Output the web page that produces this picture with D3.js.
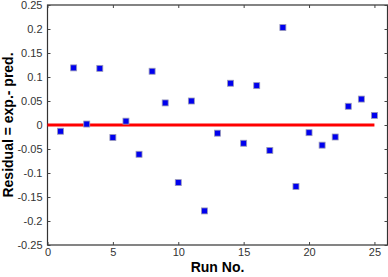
<!DOCTYPE html>
<html><head><meta charset="utf-8">
<script src="https://cdn.jsdelivr.net/npm/d3@7"></script>
<style>body{margin:0;background:#fff}svg{display:block}</style>
</head><body>
<svg id="c" width="388" height="277"></svg>
<script>
const runs = [1,2,3,4,5,6,7,8,9,10,11,12,13,14,15,16,17,18,19,20,21,22,23,24,25];
const residuals = [-0.013,0.119,0.002,0.118,-0.026,0.008,-0.061,0.112,0.046,-0.120,0.050,-0.179,-0.017,0.087,-0.038,0.082,-0.053,0.203,-0.128,-0.016,-0.042,-0.025,0.039,0.054,0.020];
const xTicks = [0,5,10,15,20,25];
const yTicks = [-0.25,-0.2,-0.15,-0.1,-0.05,0,0.05,0.1,0.15,0.2,0.25];
const zeroLine = [0,25];

const svg = d3.select("#c");
const L=47.5, R=387.5, T=5, B=245;
const x = d3.scaleLinear().domain([0,26]).range([L,R]);
const y = d3.scaleLinear().domain([-0.25,0.25]).range([B,T]);
const fmt = d => d===0 ? "0" : String(d);

// frame
svg.append("rect").attr("x",L).attr("y",T).attr("width",R-L).attr("height",B-T)
  .attr("fill","none").attr("stroke","#333").attr("stroke-width",1.2);

// axes
const xa = svg.append("g").attr("transform",`translate(0,${B})`)
  .call(d3.axisBottom(x).tickValues(xTicks).tickSize(-3).tickPadding(3).tickFormat(fmt));
const xt = svg.append("g").attr("transform",`translate(0,${T})`)
  .call(d3.axisTop(x).tickValues(xTicks).tickSize(-3).tickFormat(""));
const ya = svg.append("g").attr("transform",`translate(${L},0)`)
  .call(d3.axisLeft(y).tickValues(yTicks).tickSize(-3).tickPadding(5).tickFormat(fmt));
const yr = svg.append("g").attr("transform",`translate(${R},0)`)
  .call(d3.axisRight(y).tickValues(yTicks).tickSize(-3).tickFormat(""));
[xa,xt,ya,yr].forEach(g=>{
  g.select(".domain").remove();
  g.selectAll(".tick line").attr("stroke","#444");
  g.selectAll("text").attr("font-family","Liberation Sans, Arial, sans-serif").attr("font-size",11).attr("fill","#333");
});

// zero line
svg.append("line").attr("x1",x(zeroLine[0])).attr("x2",x(zeroLine[1]))
  .attr("y1",y(0)).attr("y2",y(0)).attr("stroke","#ff0000").attr("stroke-width",3);

// points
svg.selectAll("rect.pt").data(runs).join("rect").attr("class","pt")
  .attr("x",(d,i)=>x(d)-3).attr("y",(d,i)=>y(residuals[i])-3)
  .attr("width",6).attr("height",6)
  .attr("fill","#0000ee").attr("stroke","#9a9ab8").attr("stroke-width",0.8);

// titles
svg.append("text").attr("x",x(13)).attr("y",272).attr("text-anchor","middle")
  .attr("font-family","Liberation Sans, Arial, sans-serif").attr("font-weight","bold").attr("font-size",14)
  .text("Run No.");
svg.append("text").attr("transform",`translate(13,${y(0)}) rotate(-90)`).attr("text-anchor","middle")
  .attr("font-family","Liberation Sans, Arial, sans-serif").attr("font-weight","bold").attr("font-size",14)
  .text("Residual = exp.- pred.");
</script>
</body></html>
